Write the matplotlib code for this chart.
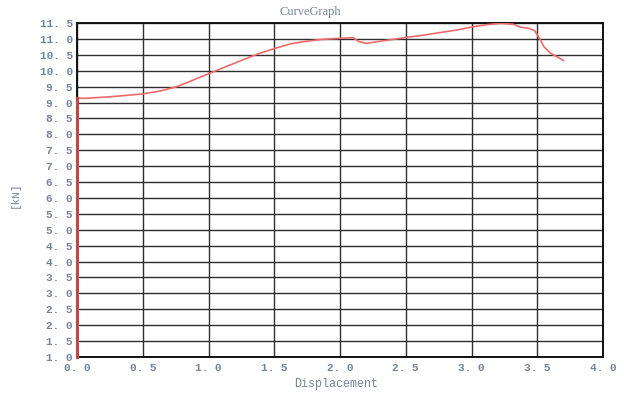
import matplotlib
matplotlib.use('Agg')
import matplotlib.pyplot as plt

# Curve data
disp = [0.0, 0.0, 0.05, 0.25, 0.5, 0.63, 0.76, 0.88, 1.01, 1.14, 1.26, 1.39, 1.52,
        1.62, 1.70, 1.85, 2.0, 2.10, 2.14, 2.20, 2.33, 2.51, 2.64, 2.76, 2.89,
        3.01, 3.12, 3.22, 3.32, 3.37, 3.44, 3.48, 3.52, 3.55, 3.60, 3.65, 3.70]
force = [1.0, 9.15, 9.13, 9.18, 9.27, 9.36, 9.50, 9.70, 9.92, 10.14, 10.34, 10.55,
         10.72, 10.84, 10.90, 10.98, 11.02, 11.04, 10.92, 10.86, 10.94, 11.05, 11.12,
         11.20, 11.28, 11.38, 11.45, 11.49, 11.46, 11.37, 11.33, 11.26, 11.0, 10.76,
         10.55, 10.44, 10.32]

x_ticks = [0.0, 0.5, 1.0, 1.5, 2.0, 2.5, 3.0, 3.5, 4.0]
y_ticks = [1.0 + 0.5 * i for i in range(22)]

TXT = '#74849a'
FONT = 'Liberation Mono'


def fmt(v):
    return f'{v:.1f}'.replace('.', '. ')


fig = plt.figure(figsize=(6.24, 3.94), dpi=100)
ax = fig.add_axes([77 / 624, 37 / 394, 526 / 624, 334 / 394])

ax.plot(disp[:2], force[:2], color='#c04848', lw=2.2, zorder=5, clip_on=False)
ax.plot(disp[1:], force[1:], color='#f06a6a', lw=1.2, zorder=4)

ax.set_xlim(0, 4)
ax.set_ylim(1, 11.5)
ax.set_xticks(x_ticks)
ax.set_yticks(y_ticks)
ax.set_xticklabels([fmt(v) for v in x_ticks], fontfamily=FONT, fontsize=8,
                   color=TXT, fontweight='bold')
ax.set_yticklabels([fmt(v) for v in y_ticks], fontfamily=FONT, fontsize=8,
                   color=TXT, fontweight='bold')
ax.tick_params(axis='y', length=0, pad=3)
ax.tick_params(axis='x', length=0, pad=4.2)
ax.grid(True, color='#2e2e2e', lw=1.0)
for s in ax.spines.values():
    s.set_color('#111111')
    s.set_linewidth(1.4)

fig.text(310 / 624, 1 - 12 / 394, 'CurveGraph', ha='center', va='center',
         fontfamily='Liberation Serif', fontsize=9, color=TXT)
fig.text(336 / 624, 1 - 384 / 394, 'Displacement', ha='center', va='center',
         fontfamily=FONT, fontsize=8.5, color=TXT)
fig.text(15 / 624, 1 - 195 / 394, '[kN]', ha='center', va='center', rotation=90,
         fontfamily=FONT, fontsize=8, color=TXT)

fig.savefig('out.png', dpi=100)
